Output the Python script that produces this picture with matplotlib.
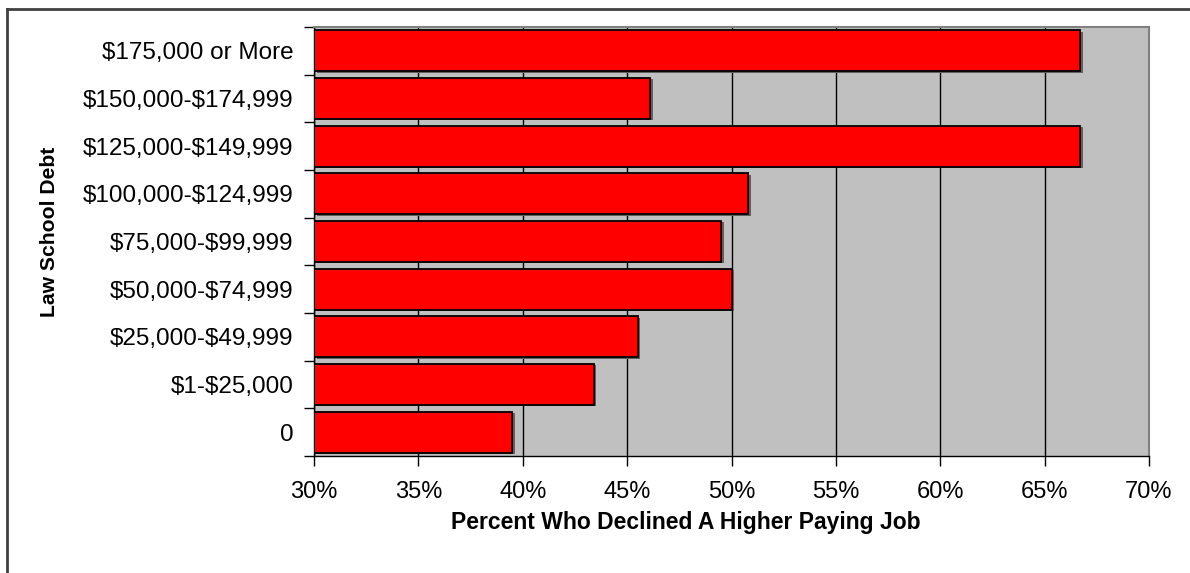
import matplotlib
matplotlib.use("Agg")
import matplotlib.pyplot as plt
from matplotlib.lines import Line2D
from matplotlib.ticker import FixedLocator, PercentFormatter

categories = ["0", "$1-$25,000", "$25,000-$49,999", "$50,000-$74,999",
              "$75,000-$99,999", "$100,000-$124,999", "$125,000-$149,999",
              "$150,000-$174,999", "$175,000 or More"]
values = [39.5, 43.4, 45.5, 50.0, 49.5, 50.8, 66.7, 46.1, 66.7]
xticks = [30, 35, 40, 45, 50, 55, 60, 65, 70]

plt.rcParams['font.family'] = ['Liberation Sans', 'DejaVu Sans']
plt.rcParams['text.parse_math'] = False

fig = plt.figure(figsize=(11.9, 5.73), dpi=100)
ax = fig.add_axes([314/1190, 1-456/573, (1149-314)/1190, (456-27)/573])
ax.set_facecolor('#C0C0C0')

ypos = list(range(len(categories)))
# subtle shadow
ax.barh([y - 0.03 for y in ypos], [v - 30 for v in values], left=[30.12]*len(values),
        height=0.86, color='#606060', edgecolor='none', zorder=2)
ax.barh(ypos, [v - 30 for v in values], left=30, height=0.86,
        color='#FF0000', edgecolor='black', linewidth=1.3, zorder=3)

ax.set_xlim(30, 70)
ax.set_ylim(-0.5, len(categories) - 0.5)
ax.xaxis.set_major_locator(FixedLocator(xticks))
ax.xaxis.set_major_formatter(PercentFormatter(decimals=0))
ax.grid(axis='x', color='black', linewidth=1.0, zorder=1)
ax.set_axisbelow(True)

ax.set_yticks(ypos)
ax.set_yticklabels(categories)
ax.set_yticks([y + 0.5 for y in ypos[:-1]] + [-0.5, len(categories) - 0.5], minor=True)
ax.tick_params(axis='y', which='major', length=0, pad=15, labelsize=17.5)
ax.tick_params(axis='y', which='minor', length=7, width=1, direction='out')
ax.tick_params(axis='x', length=7, width=1, direction='out', labelsize=17, pad=11)

for s in ['top', 'right']:
    ax.spines[s].set_color('#808080')
    ax.spines[s].set_linewidth(1.5)
for s in ['left', 'bottom']:
    ax.spines[s].set_color('black')
    ax.spines[s].set_linewidth(1.0)

ax.set_xlabel('Percent Who Declined A Higher Paying Job', fontsize=16.5,
              fontweight='bold')
ax.xaxis.set_label_coords(0.4455, -0.128)
ax.set_ylabel('Law School Debt', fontsize=15.2, fontweight='bold')
ax.yaxis.set_label_coords(-0.305, 0.522)

# outer frame (left and top edges visible)
fig.add_artist(Line2D([7/1190, 7/1190], [0, 1-9/573], color='#404040',
                      linewidth=2, transform=fig.transFigure))
fig.add_artist(Line2D([7/1190, 1], [1-9/573, 1-9/573], color='#404040',
                      linewidth=2, transform=fig.transFigure))

fig.savefig('out.png', dpi=100)
